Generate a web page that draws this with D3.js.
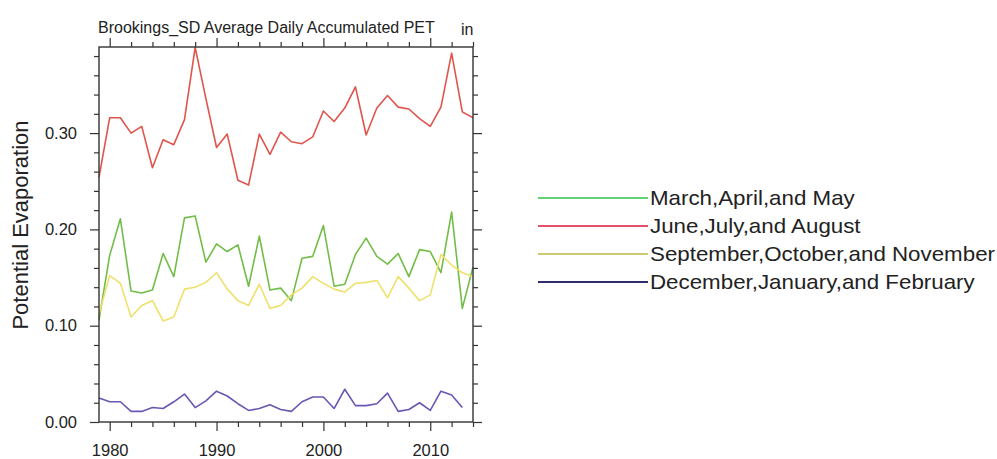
<!DOCTYPE html>
<html>
<head>
<meta charset="utf-8">
<script src="https://cdn.jsdelivr.net/npm/d3@7"></script>
<style>
  body { margin: 0; background: #fff; }
  svg { font-family: "Liberation Sans", Arial, sans-serif; }
</style>
</head>
<body>
<script>
const years = d3.range(1979, 2015);
const seriesNames = ['March,April,and May', 'June,July,and August',
                     'September,October,and November', 'December,January,and February'];
const seriesColors = ['#72bd48', '#e0544c', '#eee16c', '#6b56b3'];
const legendColors = ['#62d272', '#e2506a', '#cfca72', '#2e2e6c'];

const mam = [0.106, 0.173, 0.211, 0.136, 0.134, 0.137, 0.175, 0.151, 0.212, 0.214,
             0.166, 0.185, 0.177, 0.184, 0.141, 0.193, 0.137, 0.139, 0.126, 0.170,
             0.172, 0.204, 0.141, 0.143, 0.174, 0.191, 0.172, 0.164, 0.175, 0.151,
             0.179, 0.177, 0.155, 0.218, 0.118, 0.161];
const jja = [0.254, 0.316, 0.316, 0.300, 0.307, 0.264, 0.293, 0.288, 0.314, 0.389,
             0.336, 0.285, 0.299, 0.251, 0.246, 0.299, 0.278, 0.301, 0.291, 0.289,
             0.296, 0.323, 0.312, 0.326, 0.348, 0.298, 0.326, 0.339, 0.327, 0.325,
             0.315, 0.307, 0.327, 0.383, 0.322, 0.316];
const son = [0.112, 0.152, 0.144, 0.109, 0.121, 0.126, 0.105, 0.109, 0.138, 0.140,
             0.145, 0.155, 0.138, 0.126, 0.121, 0.143, 0.118, 0.121, 0.132, 0.139,
             0.151, 0.144, 0.138, 0.135, 0.144, 0.145, 0.147, 0.129, 0.151, 0.139,
             0.126, 0.132, 0.174, 0.163, 0.155, 0.151];
const djf = [0.025, 0.021, 0.021, 0.011, 0.011, 0.015, 0.014, 0.021, 0.029, 0.015,
             0.022, 0.032, 0.027, 0.019, 0.012, 0.014, 0.018, 0.013, 0.011, 0.021,
             0.026, 0.026, 0.014, 0.034, 0.017, 0.017, 0.019, 0.030, 0.011, 0.013,
             0.020, 0.012, 0.032, 0.028, 0.015];
const allSeries = [mam, jja, son, djf];

const yTickValues = [0, 0.1, 0.2, 0.3];
const xTickValues = [1980, 1990, 2000, 2010];

const width = 997, height = 459;
const plotLeft = 99, plotRight = 473, plotTop = 47, plotBottom = 422;

const xScale = d3.scaleLinear().domain([1979, 2014]).range([plotLeft, plotRight]);
const yScale = d3.scaleLinear().domain([0, 0.3894]).range([plotBottom, plotTop]);

const svg = d3.select('body').append('svg')
    .attr('width', width)
    .attr('height', height);

// lines
const line = d3.line()
    .x((d, i) => xScale(years[i]))
    .y(d => yScale(d));

svg.selectAll('path.series')
    .data(allSeries)
    .enter()
    .append('path')
      .attr('class', 'series')
      .attr('d', d => line(d))
      .attr('fill', 'none')
      .attr('stroke', (d, i) => seriesColors[i])
      .attr('stroke-width', 1.6)
      .attr('stroke-linejoin', 'round');

// axes: major + minor ticks on all four sides
const xMinor = d3.range(1980, 2015, 2).filter(v => xTickValues.indexOf(v) < 0);
const yMinor = d3.range(0.02, 0.39, 0.02).filter(v => yTickValues.every(t => Math.abs(t - v) > 1e-6));

function styleAxis(g) {
  g.select('.domain').remove();
  g.selectAll('line').attr('stroke', '#333').attr('stroke-width', 1.2);
  g.selectAll('text').attr('fill', '#222').style('font-size', '16.5px');
}

svg.append('g').attr('transform', `translate(0,${plotBottom})`)
    .call(d3.axisBottom(xScale).tickValues(xTickValues).tickFormat(d3.format('d')).tickSize(9).tickPadding(13))
    .call(styleAxis);
svg.append('g').attr('transform', `translate(0,${plotBottom})`)
    .call(d3.axisBottom(xScale).tickValues(xMinor).tickFormat('').tickSize(5))
    .call(styleAxis);
svg.append('g').attr('transform', `translate(0,${plotTop})`)
    .call(d3.axisTop(xScale).tickValues(xTickValues).tickFormat('').tickSize(9))
    .call(styleAxis);
svg.append('g').attr('transform', `translate(0,${plotTop})`)
    .call(d3.axisTop(xScale).tickValues(xMinor).tickFormat('').tickSize(5))
    .call(styleAxis);

svg.append('g').attr('transform', `translate(${plotLeft},0)`)
    .call(d3.axisLeft(yScale).tickValues(yTickValues).tickFormat(d3.format('.2f')).tickSize(9).tickPadding(13))
    .call(styleAxis);
svg.append('g').attr('transform', `translate(${plotLeft},0)`)
    .call(d3.axisLeft(yScale).tickValues(yMinor).tickFormat('').tickSize(5))
    .call(styleAxis);
svg.append('g').attr('transform', `translate(${plotRight},0)`)
    .call(d3.axisRight(yScale).tickValues(yTickValues).tickFormat('').tickSize(9))
    .call(styleAxis);
svg.append('g').attr('transform', `translate(${plotRight},0)`)
    .call(d3.axisRight(yScale).tickValues(yMinor).tickFormat('').tickSize(5))
    .call(styleAxis);

// frame
svg.append('rect')
    .attr('x', plotLeft).attr('y', plotTop)
    .attr('width', plotRight - plotLeft).attr('height', plotBottom - plotTop)
    .attr('fill', 'none')
    .attr('stroke', '#333')
    .attr('stroke-width', 1.4);

// titles
svg.append('text')
    .attr('x', 98).attr('y', 33)
    .style('font-size', '16px')
    .attr('fill', '#222')
    .text('Brookings_SD Average Daily Accumulated PET');

svg.append('text')
    .attr('x', 461).attr('y', 35)
    .style('font-size', '16px')
    .attr('fill', '#222')
    .text('in');

svg.append('text')
    .attr('transform', `translate(28,225) rotate(-90)`)
    .attr('text-anchor', 'middle')
    .style('font-size', '22px')
    .attr('fill', '#222')
    .text('Potential Evaporation');

// legend
const legend = svg.append('g');
const legendRows = legend.selectAll('g')
    .data(seriesNames)
    .enter()
    .append('g')
      .attr('transform', (d, i) => `translate(538,${198 + i * 28})`);

legendRows.append('line')
    .attr('x1', 0).attr('x2', 110)
    .attr('stroke', (d, i) => legendColors[i])
    .attr('stroke-width', 2.2);

legendRows.append('text')
    .attr('transform', 'translate(112,0) scale(1.117,1)')
    .attr('dy', '0.35em')
    .style('font-size', '20px')
    .attr('fill', '#222')
    .text(d => d);
</script>
</body>
</html>
